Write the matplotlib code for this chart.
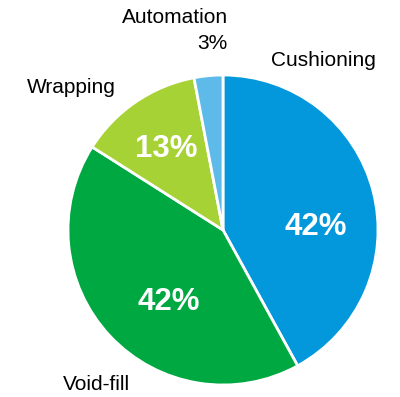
import matplotlib

matplotlib.use("Agg")
import matplotlib.pyplot as plt

plt.rcParams["font.family"] = ["Liberation Sans", "DejaVu Sans"]

# packaging segment shares, clockwise from 12 o'clock
categories = ["Cushioning", "Void-fill", "Wrapping", "Automation"]
shares = [42, 42, 13, 3]
colors = ["#0398DB", "#00A842", "#A7D235", "#5EBBE9"]

W, H = 400, 397


def px(x, y):
    # pixel position (origin top-left) -> data coords
    return x, H - y


fig = plt.figure(figsize=(W / 100, H / 100), dpi=100)
ax = fig.add_axes([0, 0, 1, 1])
ax.set_xlim(0, W)
ax.set_ylim(0, H)
ax.set_aspect("equal")
ax.axis("off")

center = px(223, 230)
radius = 155
wedges, _ = ax.pie(
    shares,
    colors=colors,
    startangle=90,
    counterclock=False,
    center=center,
    radius=radius,
    wedgeprops={"edgecolor": "white", "linewidth": 2.0},
    frame=True,
)
ax.set_xlim(0, W)
ax.set_ylim(0, H)
ax.axis("off")

# values inside the big slices
inner = [(316, 235, shares[0]), (169, 310, shares[1]), (166, 157, shares[2])]
for x, y, val in inner:
    ax.text(*px(x, y), f"{val}%", color="white", fontsize=22.5, fontweight="bold",
            ha="center", va="baseline")

# category names around the pie
ax.text(*px(271, 66), categories[0], fontsize=15, ha="left", va="baseline")
ax.text(*px(63, 390), categories[1], fontsize=15, ha="left", va="baseline")
ax.text(*px(27, 93), categories[2], fontsize=15, ha="left", va="baseline")
ax.text(*px(228, 23), categories[3], fontsize=15, ha="right", va="baseline")
ax.text(*px(228, 49), f"{shares[3]}%", fontsize=15, ha="right", va="baseline")

fig.savefig("out.png", dpi=100)
